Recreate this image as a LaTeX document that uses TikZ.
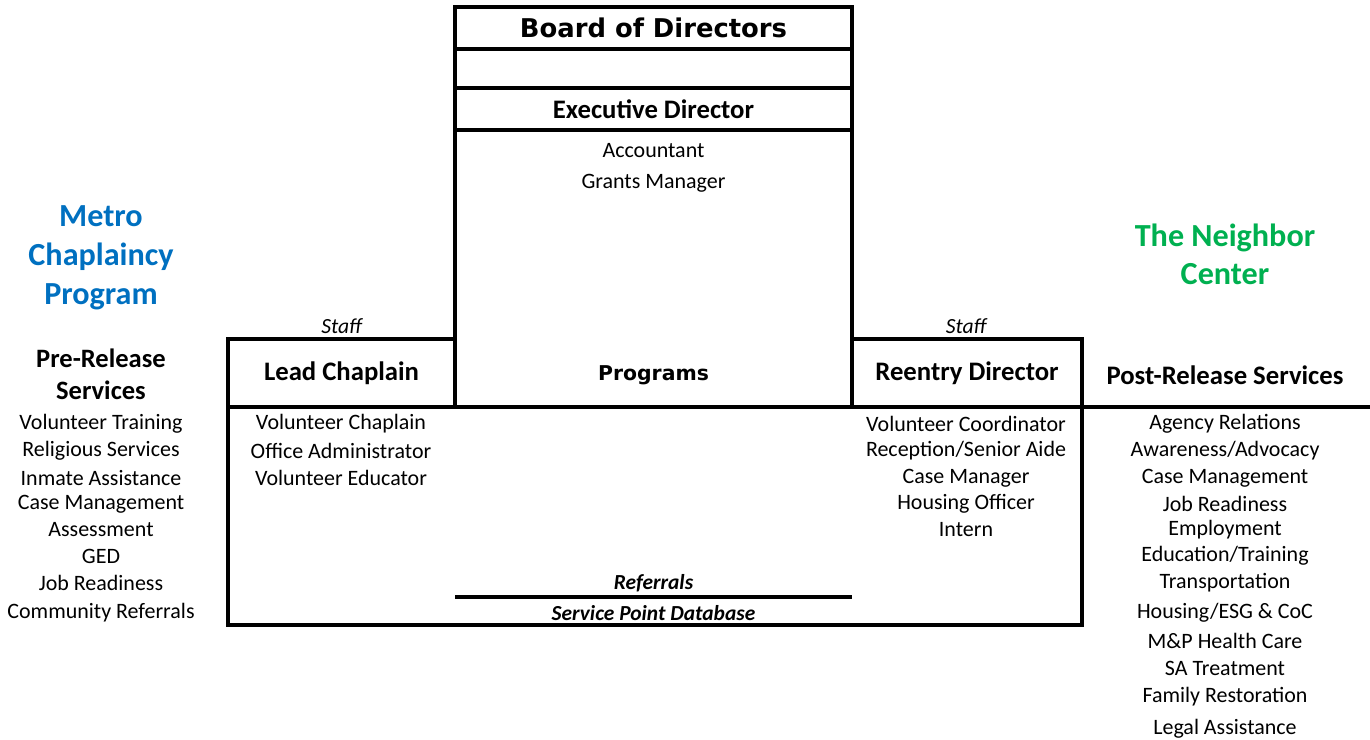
\documentclass[tikz,border=0pt]{standalone}
\usepackage{fontspec}
\setmainfont{Carlito}
\newfontfamily\heavyfont{DejaVu Sans}
\usepackage{tikz}
\usetikzlibrary{positioning}

\definecolor{metroblue}{RGB}{0,112,192}
\definecolor{neighborgreen}{RGB}{0,176,80}

\tikzset{
  frame/.style={draw, line width=1.8pt},
  box/.style={frame, minimum height=13.6mm, inner sep=0pt, outer sep=0pt},
  topbox/.style={frame, minimum width=79.4mm, inner sep=0pt, outer sep=0pt},
  head/.style={font=\fontsize{15.2}{18}\selectfont\bfseries},
  heavy/.style={font=\fontsize{14.7}{18}\selectfont\heavyfont\bfseries},
  title/.style={font=\fontsize{18.3}{22.1}\selectfont\bfseries, align=center},
  item/.style={font=\fontsize{12.5}{15}\selectfont},
  note/.style={font=\fontsize{12.3}{15}\selectfont\itshape},
  refnote/.style={font=\fontsize{12.2}{15}\selectfont\bfseries\itshape}
}

\begin{document}
\begin{tikzpicture}[x=0.2mm, y=-0.2mm]
      \useasboundingbox (0,0) rectangle (1370,740);

      % board and executive director
      \node[topbox, heavy, minimum height=8.4mm] (board) at (653.5,28) {Board of Directors};
      \node[topbox, minimum height=7.8mm] (gap) at (653.5,68.5) {};
      \node[topbox, head, minimum height=8.4mm] (exec) at (653.5,109) {Executive Director};
      \node[item] (acct) at (653.5,151) {Accountant};
      \node[item] (grants) at (653.5,183) {Grants Manager};

      % program titles
      \node[title, text=metroblue] (metro) at (101,258) {Metro\\Chaplaincy\\Program};
      \node[title, text=neighborgreen, font=\fontsize{18.3}{21.5}\selectfont\bfseries] (neighbor) at (1225,254) {The Neighbor\\Center};

      % staff row
      \node[box, head, minimum width=45.4mm] (lead) at (341.5,373) {Lead Chaplain};
      \node[box, head, minimum width=46mm] (reentry) at (967,373) {Reentry Director};
      \node[heavy, font=\fontsize{11.6}{15}\selectfont\heavyfont\bfseries] (programs) at (653.5,375) {Programs};
      \node[note] (staffl) at (341.5,326) {Staff};
      \node[note] (staffr) at (966,326) {Staff};
      \node[title, font=\fontsize{15.1}{18.1}\selectfont\bfseries, text=black] (pre) at (101,374) {Pre-Release\\Services};
      \node[head] (post) at (1225,375) {Post-Release Services};

      \draw[frame] (exec.south west) -- (exec.south west |- lead.north east);
      \draw[frame] (exec.south east) -- (exec.south east |- reentry.north west);

      % lower frame
      \coordinate (edge) at (1370,407);
      \coordinate (fr) at (1082,625);
      \draw[frame] (lead.south west) rectangle (fr);
      \draw[frame] (reentry.south east) -- (reentry.south east -| edge);

      % service lists
      \foreach \y/\t in {424/{Volunteer Training}, 451/{Religious Services}, 478/{Inmate Assistance},
          504/{Case Management}, 530/{Assessment}, 556/{GED}, 583/{Job Readiness}, 613/{Community Referrals}}
        \node[item] (pre\y) at (101,\y) {\t};
      \foreach \y/\t in {424/{Volunteer Chaplain}, 451/{Office Administrator}, 478/{Volunteer Educator}}
        \node[item] (lead\y) at (341,\y) {\t};
      \foreach \y/\t in {424/{Volunteer Coordinator}, 451/{Reception/Senior Aide}, 478/{Case Manager},
          504/{Housing Officer}, 530/{Intern}}
        \node[item] (reentry\y) at (966,\y) {\t};
      \foreach \y/\t in {424/{Agency Relations}, 451/{Awareness/Advocacy}, 478/{Case Management},
          504/{Job Readiness}, 530/{Employment}, 556/{Education/Training}, 583/{Transportation},
          613/{Housing/ESG \& CoC}, 641/{M\&P Health Care}, 668/{SA Treatment},
          697/{Family Restoration}, 729/{Legal Assistance}}
        \node[item] (post\y) at (1225,\y) {\t};

      % referrals
      \node[refnote] (refs) at (653.5,583) {Referrals};
      \node[refnote] (spd) at (653.5,613) {Service Point Database};
      \coordinate (refl) at (455,597);
      \coordinate (refr) at (852,597);
      \draw[frame] (refl) -- (refr);
\end{tikzpicture}
\end{document}
